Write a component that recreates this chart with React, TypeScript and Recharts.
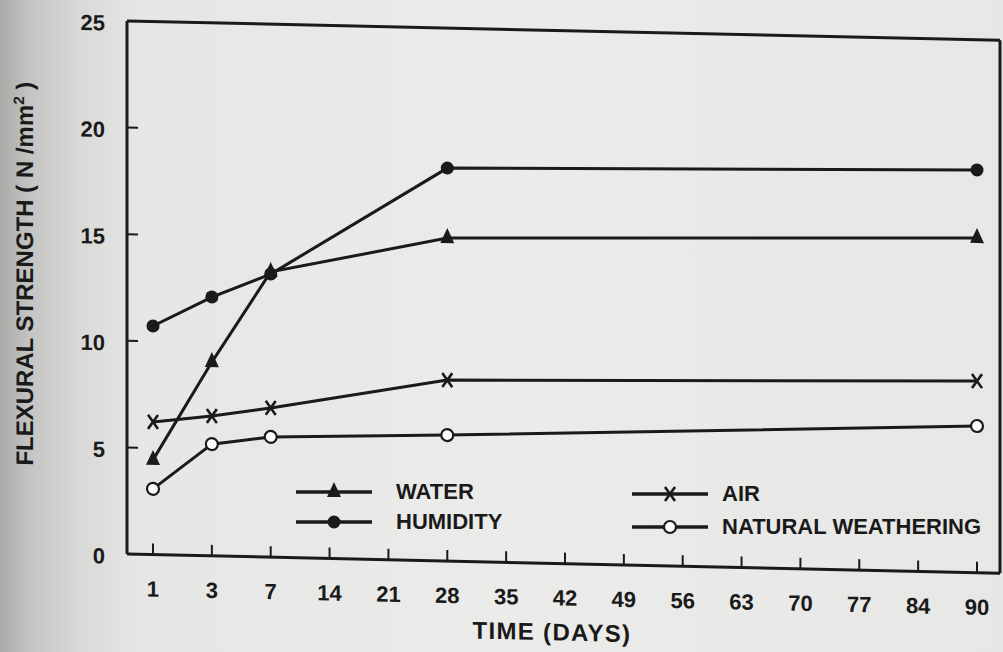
import React from 'react'
import { LineChart, Line, XAxis, YAxis, ReferenceLine, Label } from 'recharts'

// values read in the chart's own frame (the scanned page is slightly sheared)
const days = ['1', '3', '7', '14', '21', '28', '35', '42', '49', '56', '63', '70', '77', '84', '90']
const water = [4.44, 9.09, 13.38, null, null, 15.15, null, null, null, null, null, null, null, null, 15.7]
const humidity = [10.72, 12.14, 13.28, null, null, 18.43, null, null, null, null, null, null, null, null, 18.89]
const air = [6.22, 6.56, 7.0, null, null, 8.49, null, null, null, null, null, null, null, null, 8.99]
const natural = [3.08, 5.24, 5.64, null, null, 5.91, null, null, null, null, null, null, null, null, 6.88]
const yTicks = [0, 5, 10, 15, 20, 25]

const data = days.map((d, i) => ({
  day: d,
  water: water[i],
  humidity: humidity[i],
  air: air[i],
  natural: natural[i],
}))

const INK = '#1a1a1a'
const FONT = '"Liberation Sans", Arial, sans-serif'

function Marker({ kind, cx, cy }: { kind: string; cx: number; cy: number }) {
  if (kind === 'water')
    return <polygon points={`${cx},${cy - 10} ${cx - 7},${cy + 5} ${cx + 7},${cy + 5}`} fill={INK} />
  if (kind === 'humidity') return <circle cx={cx} cy={cy} r={6.5} fill={INK} />
  if (kind === 'air')
    return (
      <path
        d={`M${cx - 5},${cy - 7} L${cx + 5},${cy + 7} M${cx + 5},${cy - 7} L${cx - 5},${cy + 7}`}
        stroke={INK}
        strokeWidth={2.6}
        fill="none"
      />
    )
  return <circle cx={cx} cy={cy} r={6} fill="#fbfbfb" stroke={INK} strokeWidth={2.2} />
}

const makeDot = (kind: string) => (props: any) => {
  const { cx, cy, value, index } = props
  if (value == null || cx == null || cy == null) return <g key={`${kind}-${index}`} />
  return (
    <g key={`${kind}-${index}`}>
      <Marker kind={kind} cx={cx} cy={cy} />
    </g>
  )
}

function XTick({ x, y, payload }: any) {
  return (
    <g>
      <line x1={x} y1={y} x2={x} y2={y - 11} stroke={INK} strokeWidth={2} />
      <text x={x} y={y + 42} textAnchor="middle" fontSize={22} fontWeight="bold" fill={INK} fontFamily={FONT}>
        {payload.value}
      </text>
    </g>
  )
}

function YTick({ x, y, payload }: any) {
  return (
    <g>
      {payload.value > 0 && payload.value < 25 && (
        <line x1={x} y1={y} x2={x + 11} y2={y} stroke={INK} strokeWidth={2} />
      )}
      <text x={x - 22} y={y + 10} textAnchor="end" fontSize={22} fontWeight="bold" fill={INK} fontFamily={FONT}>
        {payload.value}
      </text>
    </g>
  )
}

const legendItems = [
  { key: 'water', label: 'WATER', left: 296, top: 480, gap: 24 },
  { key: 'humidity', label: 'HUMIDITY', left: 296, top: 510, gap: 24 },
  { key: 'air', label: 'AIR', left: 632, top: 482, gap: 14 },
  { key: 'natural', label: 'NATURAL WEATHERING', left: 632, top: 515, gap: 14 },
]

function LegendOverlay() {
  return (
    <>
      {legendItems.map((it) => {
        const w = 76
        return (
          <div
            key={it.key}
            style={{ position: 'absolute', left: it.left, top: it.top, display: 'flex', alignItems: 'center' }}
          >
            <svg width={w} height={24}>
              <line x1={0} y1={12} x2={w} y2={12} stroke={INK} strokeWidth={3.4} />
              <Marker kind={it.key} cx={w / 2} cy={12} />
            </svg>
            <span
              style={{
                marginLeft: it.gap,
                fontFamily: FONT,
                fontSize: 22,
                fontWeight: 'bold',
                color: INK,
                lineHeight: '24px',
              }}
            >
              {it.label}
            </span>
          </div>
        )
      })}
    </>
  )
}

export default function App() {
  return (
    <div
      style={{
        position: 'absolute',
        left: 0,
        top: 0,
        width: 1003,
        height: 652,
        background:
          'linear-gradient(to right, #a9a9a7 0px, #c4c4c2 30px, #d9d9d7 80px, #e6e6e4 140px, #ebebe9 500px, #e7e7e5 1003px)',
        overflow: 'hidden',
      }}
    >
      <div style={{ position: 'absolute', left: 0, top: 0, transform: 'skewY(1.26deg)', transformOrigin: '127px 0px' }}>
        <LineChart width={1003} height={652} data={data} margin={{ top: 21, right: 0, left: 0, bottom: 0 }}>
          <XAxis
            dataKey="day"
            height={98}
            padding={{ left: 26, right: 23 }}
            axisLine={{ stroke: INK, strokeWidth: 3 }}
            tickLine={false}
            tickSize={0}
            tickMargin={0}
            interval={0}
            tick={<XTick />}
          >
            <Label
              content={() => (
                <text x={552} y={631} textAnchor="middle" fontSize={24} fontWeight="bold" fill={INK} fontFamily={FONT} letterSpacing={1.3}>
                  TIME (DAYS)
                </text>
              )}
            />
          </XAxis>
          <YAxis
            width={127}
            domain={[0, 25]}
            ticks={yTicks}
            axisLine={{ stroke: INK, strokeWidth: 3 }}
            tickLine={false}
            tickSize={0}
            tickMargin={0}
            tick={<YTick />}
          >
            <Label
              content={() => (
                <text
                  transform="translate(33,276) rotate(-90)"
                  textAnchor="middle"
                  fontSize={24}
                  fontWeight="bold"
                  fill={INK}
                  fontFamily={FONT}
                >
                  FLEXURAL STRENGTH ( N /mm
                  <tspan dy={-9} fontSize={15}>2</tspan>
                  <tspan dy={9}> )</tspan>
                </text>
              )}
            />
          </YAxis>
          <YAxis yAxisId="frame" orientation="right" width={3} domain={[0, 25]} tick={false} tickLine={false} axisLine={{ stroke: INK, strokeWidth: 3 }} />
          <ReferenceLine y={25} stroke={INK} strokeWidth={3} />
          <Line dataKey="water" stroke={INK} strokeWidth={3} connectNulls dot={makeDot('water')} isAnimationActive={false} />
          <Line dataKey="humidity" stroke={INK} strokeWidth={3} connectNulls dot={makeDot('humidity')} isAnimationActive={false} />
          <Line dataKey="air" stroke={INK} strokeWidth={3} connectNulls dot={makeDot('air')} isAnimationActive={false} />
          <Line dataKey="natural" stroke={INK} strokeWidth={3} connectNulls dot={makeDot('natural')} isAnimationActive={false} />
        </LineChart>
      </div>
      <LegendOverlay />
    </div>
  )
}
